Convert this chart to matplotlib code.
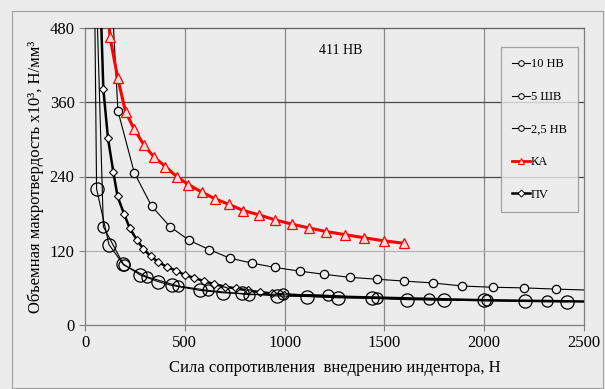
import numpy as np
import matplotlib.pyplot as plt
from matplotlib.lines import Line2D
from matplotlib.patches import Rectangle

plt.rcParams['font.family'] = ['Liberation Serif', 'DejaVu Serif']

# 10 HB - large circles
x_10 = [48, 58, 120, 189, 276, 367, 434, 576, 693, 785, 960, 1114, 1269, 1436, 1615, 1800, 2000, 2206, 2416]
y_10 = [540, 220, 130, 99, 81, 70, 64, 56, 52, 51, 47, 46, 44, 43, 41, 40, 40, 38, 37.6]

# 5 HB - large circles
x_5 = [58, 92, 194, 309, 467, 615, 823, 993, 1216, 1461, 1725, 2012, 2316]
y_5 = [530, 159, 97, 78, 63, 56, 49, 50, 48, 43, 42, 40, 39]

# 2,5 HB - medium circles
x_25 = [138, 165, 247, 334, 426, 521, 621, 726, 837, 952, 1077, 1197, 1328, 1463,
        1598, 1743, 1889, 2044, 2199, 2360, 2560]
y_25 = [510, 346, 246, 192, 159, 137, 122, 108, 100, 93, 87, 82, 77, 74,
        71, 68, 63, 61, 60, 58, 56]

# KA - red triangles
x_ka = [118, 125, 164, 203, 247, 296, 344, 403, 459, 518, 584, 651, 721, 793, 872,
        952, 1036, 1120, 1209, 1303, 1399, 1498, 1600]
y_ka = [500, 466, 399, 345, 316, 291, 272, 256, 240, 227, 215, 204, 195, 185, 178,
        170, 163, 157, 151, 146, 141, 136, 132]

# PV - thick line with diamonds
x_pv = [78, 92, 115, 142, 163, 195, 225, 259, 292, 329, 367, 409, 456, 499, 548, 596,
        648, 701, 758, 815, 877, 938, 997, 1250, 1500, 1750, 2000, 2250, 2500]
y_pv = [520, 381, 302, 247, 208, 180, 156, 138, 123, 111, 102, 94, 88, 81, 76, 71,
        66, 62, 59, 56, 53, 51, 49, 46, 44, 42, 40, 39, 38]

bg = '#ececec'
fig = plt.figure(figsize=(6.05, 3.89), dpi=100, facecolor=bg)
ax = fig.add_axes([85 / 605, 1 - 325 / 389, 499 / 605, 297 / 389])
ax.set_facecolor(bg)

fig.patches.append(Rectangle((12 / 605, 0.002), 591 / 605, 1 - 11 / 389 - 0.002,
                             transform=fig.transFigure, fill=False,
                             edgecolor='#a0a0a0', lw=0.8))

# grid
for gx in [500, 1000, 1500, 2000]:
    ax.axvline(gx, color='#8a8a8a', lw=0.9, zorder=0)
ax.axhline(120, color='#b4b4b4', lw=0.9, zorder=0)
for gy in [240, 360]:
    ax.axhline(gy, color='#4a4a4a', lw=0.9, zorder=0)

ax.plot(x_pv, y_pv, color='black', lw=1.8, marker='D', ms=4, mfc='white', mec='black',
        mew=0.8, markevery=list(range(1, 23)), zorder=3)
ax.plot(x_10, y_10, color='black', lw=0.8, marker='o', ms=9.5, mfc='none', mec='black',
        mew=0.9, zorder=4)
ax.plot(x_5, y_5, color='black', lw=0.8, marker='o', ms=8, mfc='none', mec='black',
        mew=0.9, zorder=4)
ax.plot(x_25, y_25, color='black', lw=0.8, marker='o', ms=6, mfc=bg, mec='black',
        mew=0.9, zorder=4)
ax.plot(x_ka, y_ka, color='#ff0000', lw=2.2, marker='^', ms=6.5, mfc='#f6dcdc',
        mec='#ff0000', mew=0.9, zorder=5)

ax.set_xlim(0, 2500)
ax.set_ylim(0, 480)
ax.set_xticks([0, 500, 1000, 1500, 2000, 2500])
ax.set_yticks([0, 120, 240, 360, 480])
ax.tick_params(labelsize=12, length=4, color='#808080', width=0.8)
for s in ax.spines.values():
    s.set_color('#808080')
    s.set_linewidth(0.9)
ax.spines['top'].set_color('#606060')

ax.set_xlabel('Сила сопротивления  внедрению индентора, Н', fontsize=12, labelpad=6)
ax.set_ylabel('Объемная макротвердость х10³, Н/мм³', fontsize=12, labelpad=4)

ax.text(1283, 444, '411 НВ', fontsize=10, ha='center', va='center')

handles = [
    Line2D([], [], color='black', lw=0.8, marker='o', ms=4, mfc=bg, mec='black', mew=0.7),
    Line2D([], [], color='black', lw=0.8, marker='o', ms=4, mfc=bg, mec='black', mew=0.7),
    Line2D([], [], color='black', lw=0.8, marker='o', ms=4, mfc=bg, mec='black', mew=0.7),
    Line2D([], [], color='#ff0000', lw=2, marker='^', ms=4, mfc=bg, mec='#ff0000', mew=0.7),
    Line2D([], [], color='black', lw=1.8, marker='D', ms=3.5, mfc='white', mec='black', mew=0.7),
]
labels = ['10 НВ', '5 ШВ', '2,5 НВ', 'КА', 'ПV']
leg = ax.legend(handles, labels, loc='upper left', bbox_to_anchor=(0.834, 0.936),
                fontsize=9, frameon=True, fancybox=False, handlelength=1.4,
                handletextpad=0.1, labelspacing=1.65, borderpad=0.9, borderaxespad=0)
leg.get_frame().set_facecolor(bg)
leg.get_frame().set_edgecolor('#909090')
leg.get_frame().set_linewidth(0.9)

fig.savefig('out.png', dpi=100, facecolor=bg)
